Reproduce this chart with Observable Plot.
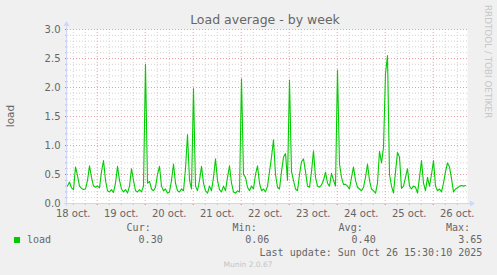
<!DOCTYPE html>
<html>
<head>
<meta charset="utf-8">
<script src="https://cdn.jsdelivr.net/npm/d3@7"></script>
<script src="https://cdn.jsdelivr.net/npm/@observablehq/plot@0.6"></script>
<style>
  html, body { margin: 0; padding: 0; background: #f0f0f0; }
  #chart { width: 497px; height: 275px; }
</style>
</head>
<body>
<div id="chart"></div>
<script>
// ---- data (hours since 18 oct 00:00; one sample per hour) ----
const startHour = 9.15;   // 18 oct ~09:09
const stepHours = 1;
const spanHours = 200;
const loadValues = [
  0.30,0.37,0.27,0.24,0.63,0.48,0.30,0.26,0.24,0.25,
  0.40,0.65,0.45,0.30,0.28,0.30,0.27,0.55,0.74,0.40,
  0.22,0.20,0.24,0.19,0.35,0.64,0.40,0.25,0.20,0.24,
  0.18,0.30,0.60,0.40,0.22,0.20,0.24,0.20,0.30,2.40,
  0.35,0.38,0.25,0.22,0.28,0.50,0.64,0.30,0.22,0.25,
  0.18,0.20,0.40,0.68,0.35,0.22,0.20,0.25,0.22,0.60,
  1.19,0.40,0.25,1.98,0.30,0.22,0.40,0.64,0.35,0.22,
  0.18,0.30,0.22,0.45,0.77,0.40,0.24,0.20,0.30,0.22,
  0.45,0.65,0.35,0.20,0.18,0.22,0.20,2.15,0.50,0.45,
  0.28,0.22,0.30,0.25,0.50,0.65,0.35,0.22,0.25,0.20,
  0.30,0.55,0.80,1.10,0.50,0.28,0.25,0.55,0.80,0.86,
  0.40,2.13,0.55,0.40,0.25,0.22,0.50,0.72,0.77,0.55,
  0.30,0.28,0.55,0.91,0.45,0.30,0.28,0.32,0.40,0.54,
  0.35,0.30,0.52,0.40,0.30,2.30,0.68,0.45,0.33,0.33,
  0.30,0.25,0.45,0.63,0.40,0.28,0.25,0.22,0.28,0.45,
  0.68,0.40,0.25,0.22,0.18,0.35,0.90,0.70,0.97,2.24,
  2.55,0.50,0.30,0.18,0.55,0.88,0.80,0.26,0.30,0.45,
  0.60,0.30,0.25,0.30,0.28,0.18,0.45,0.74,0.35,0.22,
  0.45,0.30,0.50,0.74,0.30,0.22,0.25,0.20,0.35,0.55,
  0.70,0.63,0.43,0.20,0.25,0.27,0.30,0.31,0.30,0.31
];
const dayLabels = ["18 oct.","19 oct.","20 oct.","21 oct.","22 oct.","23 oct.","24 oct.","25 oct.","26 oct."];
const yTickLabels = ["0.0","0.5","1.0","1.5","2.0","2.5","3.0"];
const seriesName = "load";
const statNames = ["Cur:","Min:","Avg:","Max:"];
const statValues = ["0.30","0.06","0.40","3.65"];
const titleText = "Load average - by week";
const yLabel = "load";
const lastUpdate = "Last update: Sun Oct 26 15:30:10 2025";
const footer = "Munin 2.0.67";
const sideText = "RRDTOOL / TOBI OETIKER";

// ---- build tables ----
const data = loadValues.map((v, i) => ({t: startHour + i * stepHours, v}));
const x0 = startHour, x1 = startHour + spanHours;
const dayNoon = dayLabels.map((d, i) => 12 + 24 * i);
const midnights = d3.range(24, x1, 24);
const sixHours = d3.range(Math.ceil(x0 / 6) * 6, x1, 6).filter(h => h % 24 !== 0);
const yMajor = yTickLabels.map(Number);
const yMinor = d3.range(1, 30).map(k => k / 10).filter(v => Math.round(v * 10) % 5 !== 0);

const minorColor = "#d2d2d2";
const majorColor = "#eaa0a0";
const axisColor = "#CFD6F8";

const plot = Plot.plot({
  width: 497,
  height: 275,
  marginLeft: 67,
  marginRight: 30,
  marginTop: 29,
  marginBottom: 72,
  style: {background: "#f0f0f0", color: "#666666", fontFamily: "DejaVu Sans", fontSize: "10px", overflow: "visible"},
  x: {type: "linear", domain: [x0, x1], label: null},
  y: {domain: [0, 3], label: null},
  marks: [
    Plot.frame({fill: "white", stroke: "none"}),
    Plot.ruleX(sixHours, {stroke: minorColor, strokeDasharray: "1,2"}),
    Plot.ruleY(yMinor, {stroke: minorColor, strokeDasharray: "1,2"}),
    Plot.ruleX(midnights, {stroke: majorColor, strokeDasharray: "1,2"}),
    Plot.ruleY(yMajor, {stroke: majorColor, strokeDasharray: "1,2"}),
    Plot.line(data, {x: "t", y: "v", stroke: "#00cc00", strokeWidth: 1.1}),
    Plot.axisX(sixHours, {tickSize: 2, tickFormat: () => "", stroke: "#bbbbbb", label: null}),
    Plot.axisX(midnights, {tickSize: 2, tickFormat: () => "", stroke: "#e87070", label: null}),
    Plot.axisX(dayNoon, {tickSize: 0, tickPadding: 6, tickFormat: (d, i) => dayLabels[i], fill: "#666666", fontSize: 10, label: null}),
    Plot.axisY(yMinor, {tickSize: 2, tickFormat: () => "", stroke: "#bbbbbb", label: null}),
    Plot.axisY(yMajor, {tickSize: 2, tickPadding: 5, tickFormat: (d, i) => yTickLabels[i], stroke: "#e87070", fill: "#666666", fontSize: 10, label: null})
  ]
});

document.getElementById("chart").appendChild(plot);

// ---- axis lines with arrows (positions from the scales) ----
const sx = plot.scale("x"), sy = plot.scale("y");
const svg = d3.select(plot);
const px0 = sx.apply(x0), px1 = sx.apply(x1);
const py0 = sy.apply(0), py3 = sy.apply(3);
const g = svg.append("g");
g.append("line").attr("x1", px0 - 3).attr("x2", px1 + 4).attr("y1", py0 + 0.5).attr("y2", py0 + 0.5).attr("stroke", axisColor);
g.append("path").attr("d", `M${px1 + 3},${py0 - 2.5}L${px1 + 8},${py0 + 0.5}L${px1 + 3},${py0 + 3.5}Z`).attr("fill", axisColor);
g.append("line").attr("x1", px0 - 0.5).attr("x2", px0 - 0.5).attr("y1", py0 + 3).attr("y2", py3 - 4).attr("stroke", axisColor);
g.append("path").attr("d", `M${px0 - 3.5},${py3 - 3}L${px0 - 0.5},${py3 - 8}L${px0 + 2.5},${py3 - 3}Z`).attr("fill", axisColor);

// ---- texts ----
const txt = svg.append("g").attr("fill", "#666666").attr("text-anchor", "start");
txt.append("text").attr("x", (px0 + px1) / 2 - 2).attr("y", 24).attr("text-anchor", "middle")
  .attr("font-family", "DejaVu Sans").attr("font-size", 12.5).text(titleText);
txt.append("text").attr("transform", `translate(14,${(py0 + py3) / 2}) rotate(-90)`).attr("text-anchor", "middle")
  .attr("font-family", "DejaVu Sans").attr("font-size", 10.5).text(yLabel);
txt.append("text").attr("transform", `translate(484.5,5) rotate(90)`).attr("text-anchor", "start")
  .attr("font-family", "DejaVu Sans").attr("font-size", 8.8).attr("fill", "#c8c8c8").text(sideText);

const mono = txt.append("g").attr("font-family", "DejaVu Sans Mono").attr("font-size", 10);
mono.append("rect").attr("x", 14).attr("y", 237).attr("width", 6).attr("height", 6).attr("fill", "#00cc00");
mono.append("text").attr("x", 27).attr("y", 243).attr("text-anchor", "start").text(seriesName);
const nameRight = [150.7, 256.7, 362.7, 470];
const valRight = [162.7, 269.3, 375.7, 482.3];
statNames.forEach((s, i) => {
  mono.append("text").attr("x", nameRight[i]).attr("y", 231).attr("text-anchor", "end").text(s);
  mono.append("text").attr("x", valRight[i]).attr("y", 243).attr("text-anchor", "end").text(statValues[i]);
});
mono.append("text").attr("x", 482.3).attr("y", 255.5).attr("text-anchor", "end").text(lastUpdate);
txt.append("text").attr("x", 248).attr("y", 266.5).attr("text-anchor", "middle")
  .attr("font-family", "DejaVu Sans").attr("font-size", 7.5).attr("fill", "#c4c4c4").text(footer);
</script>
</body>
</html>
